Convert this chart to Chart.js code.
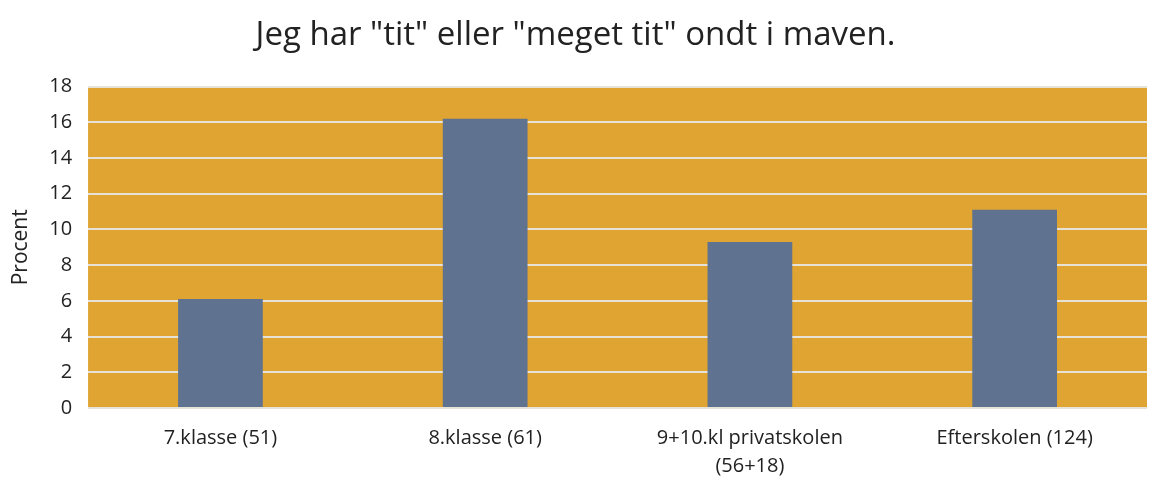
<!DOCTYPE html>
<html><head><meta charset="utf-8">
<script src="https://cdn.jsdelivr.net/npm/chart.js@4/dist/chart.umd.min.js"></script>
<style>html,body{margin:0;padding:0;background:#fff}#w{width:1149px;height:478px}</style>
</head><body><div id="w"><canvas id="c"></canvas></div>
<script>
const categories = ["7.klasse (51)", "8.klasse (61)", ["9+10.kl privatskolen", "(56+18)"], "Efterskolen (124)"];
const values = [6.1, 16.2, 9.3, 11.1];
const yTicks = [0, 2, 4, 6, 8, 10, 12, 14, 16, 18];
const titleText = 'Jeg har "tit" eller "meget tit" ondt i maven.';
const yTitle = "Procent";

const bgPlugin = {
  id: 'bg',
  beforeDraw(chart) {
    const {ctx, chartArea: a} = chart;
    ctx.save();
    ctx.fillStyle = '#DFA431';
    ctx.fillRect(a.left, a.top, a.right - a.left, a.bottom - a.top);
    ctx.restore();
  }
};

new Chart(document.getElementById('c'), {
  type: 'bar',
  data: { labels: categories, datasets: [{ data: values, backgroundColor: '#5F7290', barPercentage: 0.32, categoryPercentage: 1 }] },
  options: {
    responsive: true, maintainAspectRatio: false, animation: false,
    layout: { padding: { left: 4, right: 2, top: 0, bottom: -18 } },
    plugins: {
      legend: { display: false }, tooltip: { enabled: false },
      title: { display: true, text: titleText, color: '#222', font: { family: 'Open Sans', size: 33, weight: 'normal' }, padding: { top: 16, bottom: 31 } }
    },
    scales: {
      x: {
        grid: { display: false, drawTicks: false }, border: { display: false },
        ticks: { color: '#222', font: { family: 'Open Sans', size: 20, lineHeight: 1.4 }, padding: 16, maxRotation: 0, autoSkip: false }
      },
      y: {
        min: 0, max: 18,
        afterBuildTicks(axis) { axis.ticks = yTicks.map(v => ({ value: v })); },
        grid: { color: '#E6E2D8', lineWidth: 2, drawTicks: false }, border: { display: false },
        ticks: { color: '#222', font: { family: 'Open Sans', size: 20 }, padding: 16 },
        title: { display: true, text: yTitle, color: '#222', font: { family: 'Open Sans', size: 21 }, padding: { bottom: 0 } }
      }
    }
  },
  plugins: [bgPlugin]
});
</script></body></html>
